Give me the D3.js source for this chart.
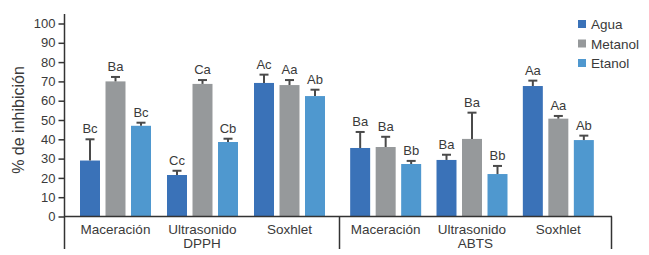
<!DOCTYPE html>
<html>
<head>
<meta charset="utf-8">
<script src="https://cdn.jsdelivr.net/npm/d3@7"></script>
<style>
  body { margin: 0; background: #fff; }
  svg text { font-family: "Liberation Sans", Arial, sans-serif; fill: #3a3a3a; }
</style>
</head>
<body>
<div class="chart"></div>
<script>
const WIDTH = 649;
const HEIGHT = 255;

const AXIS_X = 64.5;
const BASE_Y = 216.5;
const TOP_Y = 23.5;

// data
var series = ["Agua", "Metanol", "Etanol"];
var colors = ["#3a72b8", "#96999b", "#4f98cf"];
var panels = ["DPPH", "ABTS"];
var methods = ["Maceración", "Ultrasonido", "Soxhlet"];

var dpphValues = [[29, 70, 47], [21.5, 68.7, 38.6], [69.2, 68.1, 62.4]];
var dpphErrors = [[11, 2.3, 1.6], [2.2, 2, 1.7], [4.3, 2.6, 3.3]];
var dpphLetters = [["Bc", "Ba", "Bc"], ["Cc", "Ca", "Cb"], ["Ac", "Aa", "Ab"]];

var abtsValues = [[35.5, 36, 27.2], [29.3, 40.2, 22], [67.6, 50.7, 39.6]];
var abtsErrors = [[8.3, 5.3, 1.6], [2.7, 13.6, 4.2], [2.8, 1.4, 2.3]];
var abtsLetters = [["Ba", "Ba", "Bb"], ["Ba", "Ba", "Bb"], ["Aa", "Aa", "Ab"]];

var yTicks = [0, 10, 20, 30, 40, 50, 60, 70, 80, 90, 100];

var panelData = [
    { name: panels[0], values: dpphValues, errors: dpphErrors, letters: dpphLetters, range: [72, 333], edge: [AXIS_X, 339.5] },
    { name: panels[1], values: abtsValues, errors: abtsErrors, letters: abtsLetters, range: [342.5, 601.5], edge: [339.5, 611.5] }
];

var translate = function (x, y) {
    return "translate(" + x + "," + y + ")";
};

var svg = d3.select('.chart').append('svg')
    .attr('width', WIDTH)
    .attr('height', HEIGHT);

var yScale = d3.scaleLinear()
    .domain([0, 100])
    .range([BASE_Y, TOP_Y]);

var xInner = d3.scaleBand()
    .domain(series)
    .range([-38.25, 38.25])
    .paddingInner(0.216)
    .paddingOuter(0.108);

var colorScale = d3.scaleOrdinal().domain(series).range(colors);

// y axis
var yAxis = svg.append('g')
    .attr('transform', translate(AXIS_X, 0))
    .call(d3.axisLeft(yScale).tickValues(yTicks).tickSize(6).tickPadding(3));
yAxis.select('.domain').remove();
yAxis.selectAll('line').attr('stroke', '#333').attr('stroke-width', 1.5);
yAxis.selectAll('text').style('font-size', '13px').attr('fill', '#3a3a3a');

svg.append('line')
    .attr('x1', AXIS_X).attr('x2', AXIS_X)
    .attr('y1', 14).attr('y2', 249)
    .attr('stroke', '#333').attr('stroke-width', 1.5);

svg.append('text')
    .attr('transform', translate(24, 120) + ' rotate(-90)')
    .attr('text-anchor', 'middle')
    .style('font-size', '16px')
    .text('% de inhibición');

panelData.forEach(function (p) {
    var xGroup = d3.scaleBand().domain(methods).range(p.range);
    var g = svg.append('g');

    methods.forEach(function (m, mi) {
        var cx = xGroup(m) + xGroup.bandwidth() / 2;
        var rows = series.map(function (s, si) {
            return { s: s, v: p.values[mi][si], e: p.errors[mi][si], l: p.letters[mi][si] };
        });

        var bars = g.append('g').attr('transform', translate(cx, 0));

        bars.selectAll('rect').data(rows).enter().append('rect')
            .attr('x', function (d) { return xInner(d.s); })
            .attr('width', xInner.bandwidth())
            .attr('y', function (d) { return yScale(d.v); })
            .attr('height', function (d) { return BASE_Y - yScale(d.v); })
            .attr('fill', function (d) { return colorScale(d.s); });

        var err = bars.selectAll('g.err').data(rows).enter().append('g').attr('class', 'err');
        err.append('line')
            .attr('x1', function (d) { return xInner(d.s) + xInner.bandwidth() / 2; })
            .attr('x2', function (d) { return xInner(d.s) + xInner.bandwidth() / 2; })
            .attr('y1', function (d) { return yScale(d.v); })
            .attr('y2', function (d) { return yScale(d.v + d.e); })
            .attr('stroke', '#4a4a4a').attr('stroke-width', 2);
        err.append('line')
            .attr('x1', function (d) { return xInner(d.s) + xInner.bandwidth() / 2 - 4.5; })
            .attr('x2', function (d) { return xInner(d.s) + xInner.bandwidth() / 2 + 4.5; })
            .attr('y1', function (d) { return yScale(d.v + d.e); })
            .attr('y2', function (d) { return yScale(d.v + d.e); })
            .attr('stroke', '#4a4a4a').attr('stroke-width', 2);

        bars.selectAll('text').data(rows).enter().append('text')
            .attr('x', function (d) { return xInner(d.s) + xInner.bandwidth() / 2; })
            .attr('y', function (d) { return yScale(d.v + d.e) - 6; })
            .attr('text-anchor', 'middle')
            .style('font-size', '13px')
            .text(function (d) { return d.l; });

        svg.append('text')
            .attr('x', cx)
            .attr('y', 234)
            .attr('text-anchor', 'middle')
            .style('font-size', '13.5px')
            .text(m);
    });

    svg.append('text')
        .attr('x', (p.edge[0] + p.edge[1]) / 2)
        .attr('y', 248)
        .attr('text-anchor', 'middle')
        .style('font-size', '13.5px')
        .text(p.name);

    svg.append('line')
        .attr('x1', p.edge[1]).attr('x2', p.edge[1])
        .attr('y1', BASE_Y).attr('y2', 249)
        .attr('stroke', '#333').attr('stroke-width', 1.5);
});

// baseline
svg.append('line')
    .attr('x1', AXIS_X).attr('x2', 612)
    .attr('y1', BASE_Y).attr('y2', BASE_Y)
    .attr('stroke', '#333').attr('stroke-width', 1.5);

// legend
var legend = svg.append('g').attr('transform', translate(578, 24));
series.forEach(function (s, i) {
    legend.append('rect')
        .attr('x', 0).attr('y', i * 19.5 - 4)
        .attr('width', 8).attr('height', 8)
        .attr('fill', colorScale(s));
    legend.append('text')
        .attr('x', 13).attr('y', i * 19.5 + 5)
        .style('font-size', '13.5px')
        .text(s);
});
</script>
</body>
</html>
